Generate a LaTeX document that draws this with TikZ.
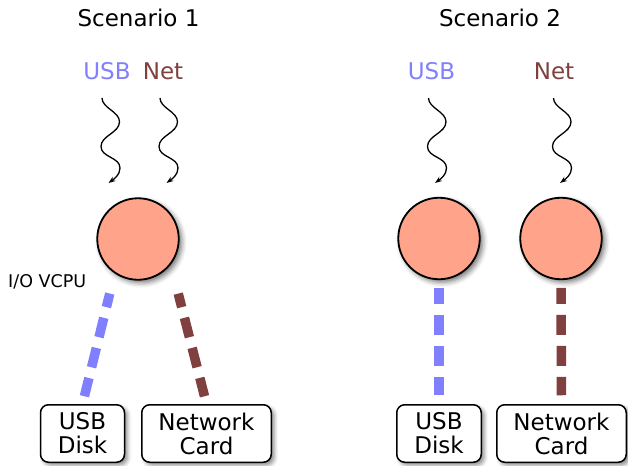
\documentclass[tikz,border=0pt]{standalone}
\usepackage{fontspec}
\setmainfont{DejaVu Sans}
\usetikzlibrary{shadows.blur,arrows.meta,calc}
\definecolor{usbc}{RGB}{128,128,255}
\definecolor{netc}{RGB}{128,64,64}
\definecolor{cpuc}{RGB}{255,164,138}
\tikzset{
  big/.style={font=\fontsize{23}{24}\selectfont},
  cpu/.style={circle,draw,line width=1.8pt,fill=cpuc,minimum size=81.5pt,inner sep=0pt,
    blur shadow={shadow xshift=3pt,shadow yshift=-3pt,shadow blur radius=5pt,shadow opacity=55}},
  dev/.style={draw,line width=1.5pt,fill=white,rounded corners=8pt,minimum height=57.5pt,
    inner sep=0pt,align=center,big,
    blur shadow={shadow xshift=3pt,shadow yshift=-3pt,shadow blur radius=4pt,shadow opacity=45}},
  sq/.style={line width=1.3pt,-{Stealth[length=7pt,width=5pt]}},
  link/.style={line width=9.5pt,dash pattern=on 20pt off 11pt},
  squiggle/.pic={\draw[sq] (0,0) .. controls (0,10) and (17.5,13.7) .. (17.5,23.7)
     .. controls (17.5,35) and (-1,37.5) .. (-1,48.5)
     .. controls (-1,59.5) and (18,59) .. (18,70)
     .. controls (18,77) and (12,81) .. (6.5,85);}
}
\begin{document}
\begin{tikzpicture}[x=1pt,y=-1pt]
\useasboundingbox (0,0) rectangle (628,465);
% titles
\node[big,anchor=base] (t1) at (138.5,27) {Scenario 1};
\node[big,anchor=base] (t2) at (500,27) {Scenario 2};
% interrupt sources
\node[big,anchor=base,text=usbc] (u1) at (107,80) {USB};
\node[big,anchor=base,text=netc] (n1) at (163,80) {Net};
\node[big,anchor=base,text=usbc] (u2) at (431.5,80) {USB};
\node[big,anchor=base,text=netc] (n2) at (554,80) {Net};
% squiggles
\pic at (102,98) {squiggle};
\pic at (160,98) {squiggle};
\pic at (428.5,98) {squiggle};
\pic at (553.5,98) {squiggle};
% VCPUs
\node[cpu] (c1) at (138,239) {};
\node[cpu] (c2) at (439,238.5) {};
\node[cpu] (c3) at (561,238.5) {};
\node[anchor=base west,inner sep=0pt,font=\fontsize{17.5}{18}\selectfont] (io) at (8,287) {I/O VCPU};
% devices
\node[dev,minimum width=84pt] (d1) at (82.5,433.5) {USB\\Disk};
\node[dev,minimum width=129.5pt] (d2) at (206.5,433.5) {Network\\Card};
\node[dev,minimum width=84.5pt] (d3) at (439,433.5) {USB\\Disk};
\node[dev,minimum width=129.5pt] (d4) at (561.5,433.5) {Network\\Card};
% links
\draw[link,usbc,dash phase=6pt,shorten <=20.6pt,shorten >=8pt] (c1.236) -- (d1.north);
\draw[link,netc,dash phase=6pt,shorten <=29.9pt,shorten >=8pt] (c1.322) -- (d2.north);
\draw[link,usbc,dash phase=4pt,shorten <=7.8pt,shorten >=8.75pt] (c2.south) -- (d3.north);
\draw[link,netc,dash phase=4pt,shorten <=7.8pt,shorten >=8.75pt] (c3.south) -- (d4.north);
\end{tikzpicture}
\end{document}
